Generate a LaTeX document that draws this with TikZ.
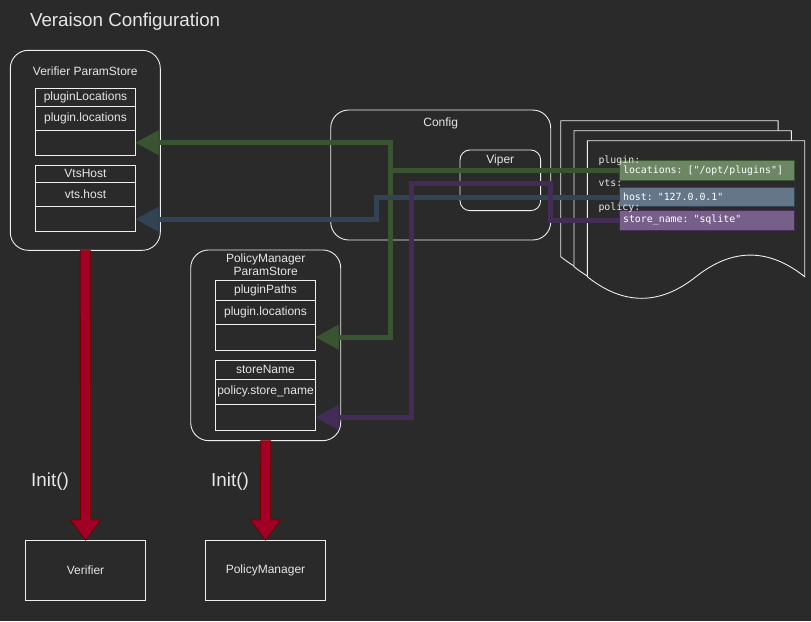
\documentclass[tikz,border=0pt]{standalone}
\usepackage{fontspec}
\setmainfont{Liberation Sans}
\newfontfamily\codefont{DejaVu Sans Mono}
\usetikzlibrary{arrows.meta,calc}
\definecolor{bg}{HTML}{2A2A2A}
\definecolor{edge}{HTML}{EEEEEE}
\definecolor{txt}{HTML}{E6E6E6}
\definecolor{gfill}{HTML}{6D8764}
\definecolor{gline}{HTML}{3A5431}
\definecolor{bfill}{HTML}{647687}
\definecolor{bline}{HTML}{314354}
\definecolor{pfill}{HTML}{76608A}
\definecolor{pline}{HTML}{432D57}
\definecolor{rfill}{HTML}{A20025}
\definecolor{rline}{HTML}{6F0000}
\begin{document}
\begin{tikzpicture}[x=1pt,y=-1pt,
  every node/.style={inner sep=0pt, outer sep=0pt},
  box/.style={draw=edge, line width=0.9pt, text=txt, font=\fontsize{12}{14}\selectfont},
  store/.style={box, rounded corners=18pt, minimum width=150pt},
  cell/.style={box, minimum width=100.4pt},
  lbl/.style={text=txt, font=\fontsize{12}{14}\selectfont},
  big/.style={text=txt, font=\fontsize{18.8}{22}\selectfont},
  code/.style={text=txt, font=\codefont\fontsize{9.9}{12}\selectfont},
  hl/.style={code, text=white, line width=0.9pt, minimum width=175.3pt, text width=167.3pt, inner xsep=4pt, align=left},
  docline/.style={draw=edge, fill=bg, line width=0.9pt},
  link/.style={line width=5pt, -{Triangle[length=23pt,width=25pt,line width=0.5pt]}},
  flex/.style={fill=rfill, draw=rline, line width=0.8pt}
]
\useasboundingbox[fill=bg] (0,0) rectangle (811,621);

% title
\node[big, anchor=base west] (title) at (30,26.5) {Veraison Configuration};

% Verifier ParamStore
\node[store, minimum height=200pt] (vps) at (85.3,150.3) {};
\node[lbl] (vpslbl) at (85.3,71) {Verifier ParamStore};
\node[cell, minimum height=17.7pt] (vpl1) at (85.5,97.2) {pluginLocations};
\node[cell, minimum height=24pt] (vpl2) at (85.5,118) {plugin.locations};
\node[cell, minimum height=25.3pt] (vpl3) at (85.5,142.7) {};
\node[cell, minimum height=17.7pt] (vvh1) at (85.5,173.8) {VtsHost};
\node[cell, minimum height=24pt] (vvh2) at (85.5,194.7) {vts.host};
\node[cell, minimum height=25pt] (vvh3) at (85.5,219.2) {};

% PolicyManager ParamStore
\node[store, minimum height=190.7pt] (pps) at (265.7,345.3) {};
\node[lbl, align=center] (ppslbl) at (265.7,264.5) {PolicyManager\\[-0.5pt]ParamStore};
\node[cell, minimum height=19.3pt] (pmp1) at (265.5,290.3) {pluginPaths};
\node[cell, minimum height=24.3pt] (pmp2) at (265.5,312.2) {plugin.locations};
\node[cell, minimum height=25.7pt] (pmp3) at (265.5,337.2) {};
\node[cell, minimum height=19pt] (pms1) at (265.5,369.8) {storeName};
\node[cell, minimum height=25pt] (pms2) at (265.5,391.8) {policy.store\_name};
\node[cell, minimum height=26pt] (pms3) at (265.5,417.3) {};

% Config and Viper
\node[box, rounded corners=18pt, minimum width=220pt, minimum height=130pt] (cfg) at (440.7,175) {};
\node[lbl] (cfglbl) at (440.7,123.3) {Config};
\node[box, rounded corners=10pt, minimum width=80.7pt, minimum height=60.7pt] (vip) at (500.3,180.3) {};
\node[lbl] (viplbl) at (500.3,160) {Viper};

% config documents
\foreach \x/\y in {560.7/120.7,574/130.7,587.3/140.7}{
  \draw[docline] (\x,\y) -- ({\x+217.4},\y) -- ({\x+217.4},{\y+136})
    .. controls ({\x+181.2},{\y+107.2}) and ({\x+144.9},{\y+107.2}) .. ({\x+108.7},{\y+136})
    .. controls ({\x+72.5},{\y+164.8}) and ({\x+36.2},{\y+164.8}) .. (\x,{\y+136}) -- cycle;
}

% connectors
\draw[link, draw=gline] (619,170.7) coordinate (gstart) -| (390.7,142.7) -- (vpl3.east);
\draw[link, draw=gline] (gstart) -| (390.7,337.2) -- (pmp3.east);
\draw[link, draw=bline] (619,197) coordinate (bstart) -| (376.7,219.2) -- (vvh3.east);
\draw[link, draw=pline] (619,220.3) coordinate (pstart) -| (550.7,183.7) -| (411,417.3) -- (pms3.east);

\node[hl, fill=gfill, draw=gline, minimum height=20pt] (loc) at (706.7,170.7) {locations: ["/opt/plugins"]};
\node[hl, fill=bfill, draw=bline, minimum height=19.4pt] (host) at (706.7,197) {host: "127.0.0.1"};
\node[hl, fill=pfill, draw=pline, minimum height=19.3pt] (sname) at (706.7,220.3) {store\_name: "sqlite"};

\node[code, anchor=base west] (kplug) at (598.5,163) {plugin:};
\node[code, anchor=base west] (kvts) at (598.5,186.5) {vts:};
\node[code, anchor=base west] (kpol) at (598.5,210.5) {policy:};

% targets
\node[box, minimum width=120.4pt, minimum height=60.3pt] (ver) at (85.5,570.2) {Verifier};
\node[box, minimum width=120.4pt, minimum height=60.3pt] (pm) at (265.5,570.2) {PolicyManager};

% Init arrows
\draw[flex] ($(vps.south)+(-5,0)$) -- ($(ver.north)+(-5,-20)$) -- ($(ver.north)+(-15,-20)$) -- (ver.north)
  -- ($(ver.north)+(15,-20)$) -- ($(ver.north)+(5,-20)$) -- ($(vps.south)+(5,0)$) -- cycle;
\draw[flex] ($(pps.south)+(-5,0)$) -- ($(pm.north)+(-5,-20)$) -- ($(pm.north)+(-15,-20)$) -- (pm.north)
  -- ($(pm.north)+(15,-20)$) -- ($(pm.north)+(5,-20)$) -- ($(pps.south)+(5,0)$) -- cycle;
\node[big, anchor=base] (init1) at (50,486.5) {Init()};
\node[big, anchor=base] (init2) at (230,486.5) {Init()};
\end{tikzpicture}
\end{document}
